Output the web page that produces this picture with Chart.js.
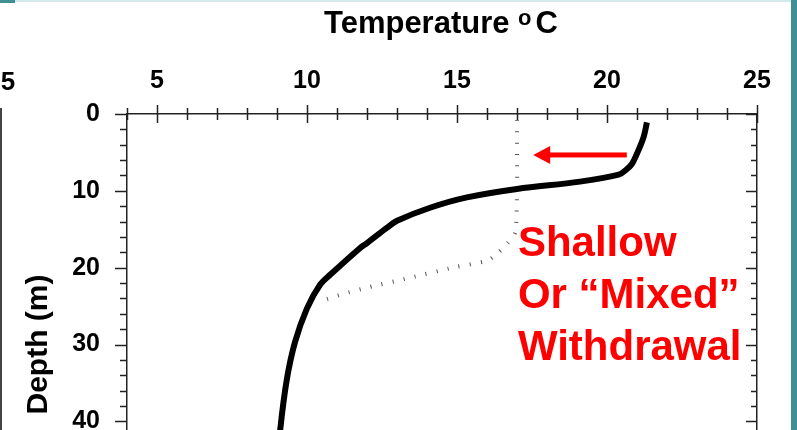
<!DOCTYPE html>
<html>
<head>
<meta charset="utf-8">
<script src="https://cdn.jsdelivr.net/npm/chart.js@4"></script>
<style>
  html, body { margin: 0; padding: 0; background: #fff; overflow: hidden; width: 797px; height: 430px; }
  #wrap { position: absolute; left: 0; top: 0; width: 797px; height: 617px; }
  .bar-top { position: absolute; left: 15px; top: 0; width: 776px; height: 2px; background: #d3e9eb; }
  .bar-corner { position: absolute; left: 0; top: 0; width: 15px; height: 3px; background: #3f8f93; }
  .bar-right { position: absolute; left: 791px; top: 0; width: 6px; height: 430px; background: #3f8f93; }
  .line-left { position: absolute; left: 0; top: 108px; width: 2px; height: 322px; background: #444; }
</style>
</head>
<body>
<div id="wrap"><canvas id="tempChart" width="797" height="617"></canvas></div>
<div class="bar-top"></div>
<div class="bar-corner"></div>
<div class="bar-right"></div>
<div class="line-left"></div>
<script>
// temperature profile (deg C) against depth (m)
var profileTemp  = [21.33, 21.22, 21.0, 20.83, 20.61, 20.39, 19.1, 17.0, 15.33, 14.1, 13.0, 12.67, 12.0, 11.78, 10.78, 10.44, 10.0, 9.6, 9.33, 9.11, 8.98];
var profileDepth = [1.1, 3.0, 5.15, 6.5, 7.35, 7.9, 8.8, 9.75, 10.85, 12.2, 13.9, 14.8, 16.8, 17.4, 20.9, 22.2, 25.3, 29.7, 34.5, 41.0, 47.0];

// dotted "mixed" profile
var mixedTemp  = [17.0, 17.0, 17.0, 16.94, 16.67, 16.33, 16.0, 14.9, 13.44, 12.0, 11.22, 10.5];
var mixedDepth = [0.8, 5.0, 10.0, 15.4, 16.9, 18.2, 19.1, 19.96, 21.3, 22.6, 23.4, 24.3];

var tempTicks  = [5, 10, 15, 20, 25];
var depthTicks = [0, 10, 20, 30, 40, 50, 60];

var noteLines = ['Shallow', 'Or \u201cMixed\u201d', 'Withdrawal'];

var FONT = '"Liberation Sans", Arial, sans-serif';

function toPoints(xs, ys) {
    return xs.map(function (x, i) { return { x: x, y: ys[i] }; });
}

// tick marks, title, arrow and red note
var decorPlugin = {
    id: 'decor',
    afterDraw: function (chart) {
        var c = chart.ctx;
        var xs = chart.scales.x, ys = chart.scales.y, ys2 = chart.scales.y2;
        var area = chart.chartArea;
        c.save();
        c.strokeStyle = '#222';
        c.lineWidth = 1.5;
        c.beginPath();
        xs.ticks.forEach(function (t) {
            var px = Math.round(xs.getPixelForValue(t.value)) + 0.5;
            var len = tempTicks.indexOf(t.value) >= 0 ? 9 : 6;
            c.moveTo(px, area.top - len);
            c.lineTo(px, area.top + len);
        });
        ys.ticks.forEach(function (t) {
            var py = Math.round(ys.getPixelForValue(t.value)) + 0.5;
            var major = depthTicks.indexOf(t.value) >= 0;
            c.moveTo(area.left - (major ? 12 : 7), py);
            c.lineTo(area.left, py);
            var py2 = Math.round(ys2.getPixelForValue(t.value)) + 0.5;
            c.moveTo(area.right - (major ? 11 : 6), py2);
            c.lineTo(area.right, py2);
        });
        c.stroke();

        // axis title with superscript o
        c.fillStyle = '#000';
        c.textBaseline = 'alphabetic';
        c.textAlign = 'left';
        c.font = 'bold 31px ' + FONT;
        var w1 = c.measureText('Temperature ').width;
        c.font = 'bold 22px ' + FONT;
        var wo = c.measureText('o').width;
        var x0 = 324;
        c.font = 'bold 31px ' + FONT;
        c.fillText('Temperature ', x0, 33);
        c.font = 'bold 22px ' + FONT;
        c.fillText('o', x0 + w1, 25);
        c.font = 'bold 31px ' + FONT;
        c.fillText('C', x0 + w1 + wo + 4, 33);

        // clipped tick label of the neighbouring chart
        c.font = 'bold 26px ' + FONT;
        c.textAlign = 'center';
        c.fillText('5', 8, 90);

        // red arrow
        var ax0 = xs.getPixelForValue(20.66), ax1 = xs.getPixelForValue(17.54);
        var ay = ys.getPixelForValue(5.33);
        c.fillStyle = '#ff0000';
        c.fillRect(ax1 + 16, ay - 2.5, ax0 - ax1 - 16, 5);
        c.beginPath();
        c.moveTo(ax1, ay);
        c.lineTo(ax1 + 17, ay - 9);
        c.lineTo(ax1 + 17, ay + 9);
        c.closePath();
        c.fill();

        // note
        c.font = 'bold 42px ' + FONT;
        c.textAlign = 'left';
        var nx = xs.getPixelForValue(17.03);
        var baseDepth = [18.5, 25.2, 32.0];
        noteLines.forEach(function (s, i) {
            c.fillText(s, nx, ys.getPixelForValue(baseDepth[i]));
        });
        c.restore();
    }
};

var ctx = document.getElementById('tempChart').getContext('2d');
var tempChart = new Chart(ctx, {
    type: 'line',
    data: {
        datasets: [{
            label: 'Temperature',
            data: toPoints(profileTemp, profileDepth),
            borderColor: '#000',
            borderWidth: 6,
            pointRadius: 0,
            tension: 0.35,
            yAxisID: 'y'
        }, {
            label: 'Mixed',
            data: toPoints(mixedTemp, mixedDepth),
            borderColor: '#555',
            borderWidth: 4,
            borderDash: [1, 10.3],
            pointRadius: 0,
            tension: 0.25,
            yAxisID: 'y'
        }]
    },
    options: {
        responsive: false,
        animation: false,
        layout: { padding: { left: 0, top: 0, right: 40, bottom: 17 } },
        plugins: { legend: { display: false }, tooltip: { enabled: false } },
        scales: {
            x: {
                type: 'linear',
                position: 'top',
                min: 4,
                max: 25,
                grid: { display: false, drawTicks: false },
                border: { display: true, color: '#222', width: 1.5 },
                ticks: {
                    stepSize: 1,
                    autoSkip: false,
                    maxRotation: 0,
                    padding: 18,
                    color: '#000',
                    font: { family: FONT, size: 25, weight: 'bold' },
                    callback: function (v) { return tempTicks.indexOf(v) >= 0 ? String(v) : ''; }
                },
                afterFit: function (s) { s.height = 114; }
            },
            y: {
                type: 'linear',
                position: 'left',
                reverse: true,
                min: 0,
                max: 60,
                grid: { display: false, drawTicks: false },
                border: { display: true, color: '#222', width: 1.5 },
                ticks: {
                    stepSize: 2,
                    autoSkip: false,
                    padding: 27,
                    color: '#000',
                    font: { family: FONT, size: 25, weight: 'bold' },
                    callback: function (v) { return depthTicks.indexOf(v) >= 0 ? String(v) : ''; }
                },
                title: {
                    display: true,
                    text: 'Depth (m)',
                    color: '#000',
                    font: { family: FONT, size: 30, weight: 'bold' },
                    padding: { top: 21, bottom: 0 }
                },
                afterFit: function (s) { s.width = 127; }
            },
            y2: {
                type: 'linear',
                position: 'right',
                reverse: true,
                min: 0,
                max: 60,
                grid: { display: false, drawTicks: false },
                border: { display: true, color: '#222', width: 1.5 },
                ticks: { display: false, stepSize: 2 },
                afterFit: function (s) { s.width = 0; }
            }
        }
    },
    plugins: [decorPlugin]
});
</script>
</body>
</html>
